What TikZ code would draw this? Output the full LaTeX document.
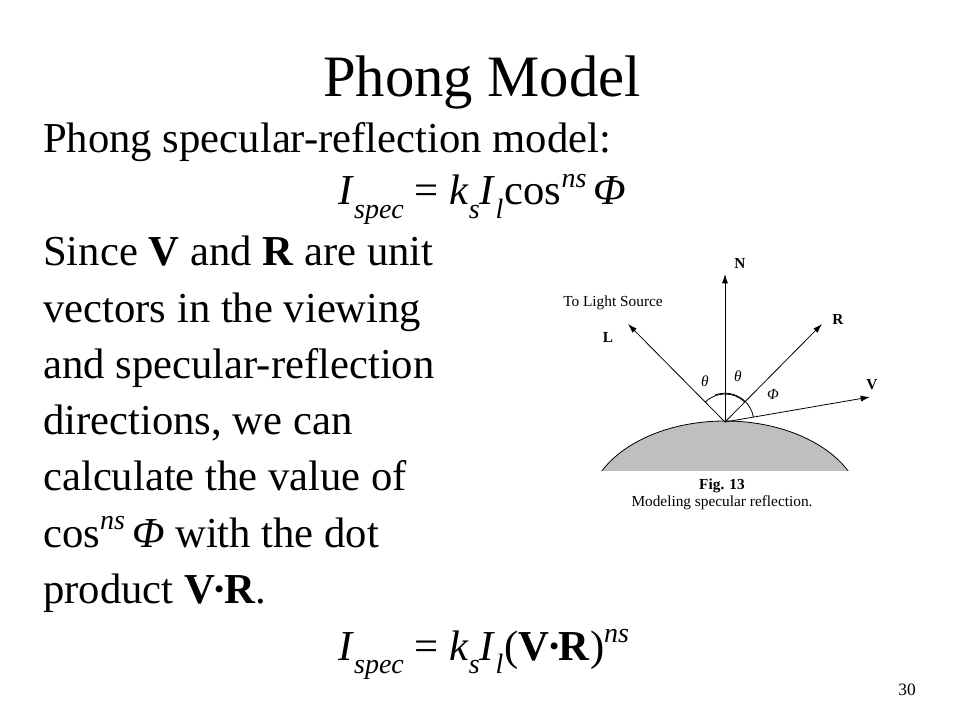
\documentclass[tikz,border=0pt]{standalone}
\usepackage{fontspec}
\setmainfont{Liberation Serif}
\usetikzlibrary{arrows.meta, positioning, calc}

\newcommand{\lowtxt}[1]{\raisebox{-0.32em}{\fontsize{21}{21}\selectfont\itshape #1}}
\newcommand{\hightxt}[1]{\raisebox{0.40em}{\fontsize{21}{21}\selectfont\itshape #1}}
\newcommand{\vdotr}{\textbf{V\kern-0.06em·\kern-0.06em R}}
\newcommand{\dgfont}{\fontsize{11.5}{12}\selectfont}

\begin{document}
\begin{tikzpicture}
        [
            x=0.75pt, y=-0.75pt,
            title/.style={font=\fontsize{44}{44}\selectfont, inner sep=0pt, anchor=base},
            body/.style={font=\fontsize{32}{32}\selectfont, inner sep=0pt, anchor=base west},
            lab/.style={font=\dgfont, inner sep=0pt},
            vlab/.style={font=\dgfont\bfseries, inner sep=0pt},
            ang/.style={font=\dgfont\itshape, inner sep=0pt},
            vec/.style={-{Latex[length=7pt,width=4.5pt]}, line width=0.6pt},
        ]
        \useasboundingbox (0,0) rectangle (960,720);
        % slide text
        \node[title] (title) at (482,97) {Phong Model};
        \node[body] (intro) at (43,153) {Phong specular-reflection model:};
        \node[body] (eqcos) at (338,205) {\textit{I}\lowtxt{spec} = \textit{k}\lowtxt{s}\textit{I}\lowtxt{l}\kern0.03em cos\hightxt{ns}\,\textit{Φ}};
        \node[body] (line1) at (43,266) {Since \textbf{V} and \textbf{R} are unit};
        \node[body] (line2) at (43,322) {vectors in the viewing};
        \node[body] (line3) at (43,378) {and specular-reflection};
        \node[body] (line4) at (43,434) {directions, we can};
        \node[body] (line5) at (43,490) {calculate the value of};
        \node[body] (line6) at (43,547) {cos\hightxt{ns}\,\textit{Φ} with the dot};
        \node[body] (line7) at (43,603) {product \vdotr.};
        \node[body] (eqdot) at (338,660) {\textit{I}\lowtxt{spec} = \textit{k}\lowtxt{s}\textit{I}\lowtxt{l}\kern0.03em(\vdotr)\hightxt{ns}};
        \node[font=\fontsize{13}{13}\selectfont, inner sep=0pt] (pagenum) at (907,690) {30};
        % surface
        \begin{scope}
            \clip (0,0) rectangle (960,470);
            \fill[black!25] (725,510) ellipse [x radius=137, y radius=89];
            \draw[line width=0.6pt] (725,510) ellipse [x radius=137, y radius=89];
        \end{scope}
        % vectors
        \coordinate (O) at (725,422);
        \coordinate (Ntip) at (725,274);
        \coordinate (Ltip) at (628,324);
        \coordinate (Rtip) at (822,324);
        \coordinate (Vtip) at (870,397);
        \draw[vec] (O) -- (Ntip);
        \draw[vec] (O) -- (Ltip);
        \draw[vec] (O) -- (Rtip);
        \draw[vec] (O) -- (Vtip);
        \draw[line width=0.6pt] (O) ++(135:21pt) arc[start angle=135, end angle=45, radius=21pt];
        \draw[line width=0.6pt] (O) ++(110:21.6pt) arc[start angle=110, end angle=10, radius=21.6pt];
        % labels
        \node[vlab] (Nlab) at (740,263) {N};
        \node[lab] (source) at (613,303) {To Light Source};
        \node[vlab] (Llab) at (608,337) {L};
        \node[vlab] (Rlab) at (838,319) {R};
        \node[vlab] (Vlab) at (872,385) {V};
        \node[ang] (thetaL) at (705,381) {θ};
        \node[ang] (thetaR) at (738,376) {θ};
        \node[ang] (phi) at (773,394) {Φ};
        \node[vlab] (fig) at (722,486) {Fig. 13};
        \node[lab] (caption) at (722,503) {Modeling specular reflection.};
\end{tikzpicture}
\end{document}
